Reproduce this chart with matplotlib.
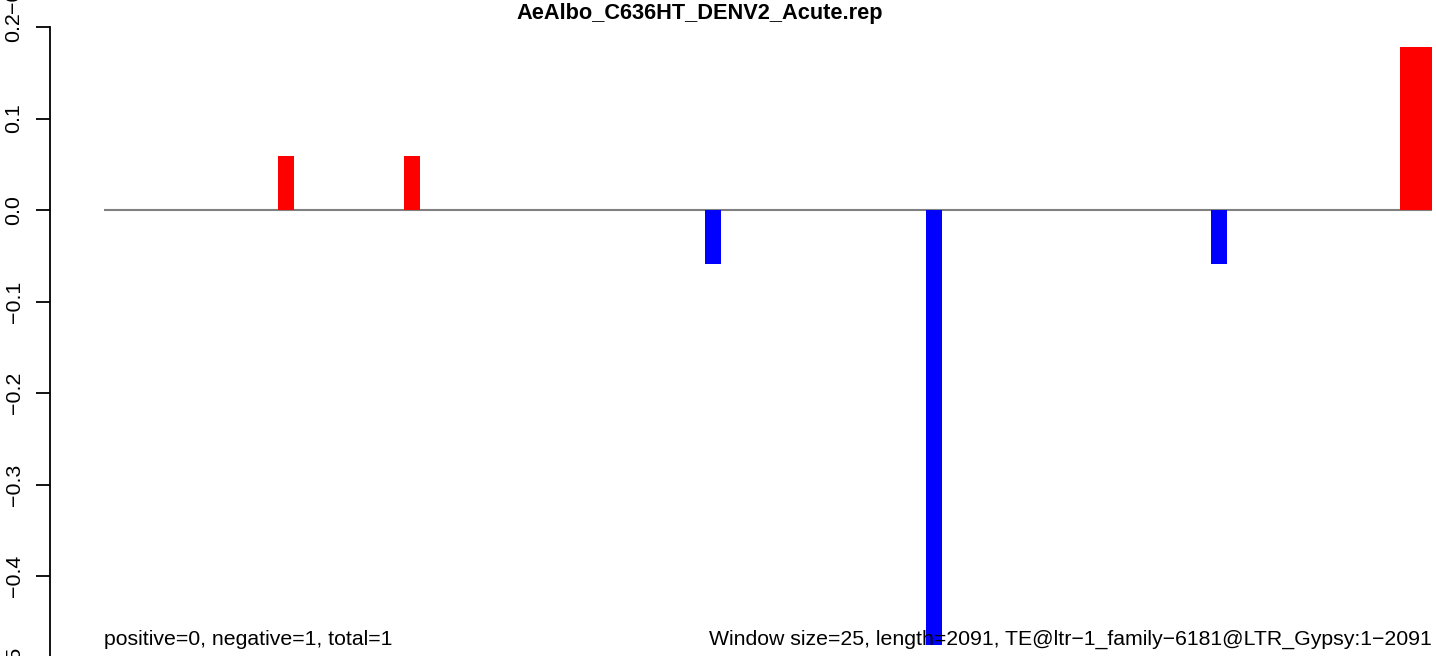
import matplotlib
matplotlib.use("Agg")
import matplotlib.pyplot as plt

plt.rcParams['font.family'] = ['Liberation Sans', 'DejaVu Sans']

# ventanas (tamaño 25) con valor distinto de cero
ventanas = [11, 19, 38, 52, 70, 82, 83]
valores = [0.059, 0.059, -0.059, -0.475, -0.059, 0.178, 0.178]
n_ventanas = 84
titulo = "AeAlbo_C636HT_DENV2_Acute.rep"
texto_izq = "positive=0, negative=1, total=1"
texto_der = "Window size=25, length=2091, TE@ltr\u22121_family\u22126181@LTR_Gypsy:1\u22122091"
yticks = [0.2, 0.1, 0.0, -0.1, -0.2, -0.3, -0.4, -0.5]
ytick_labels = ["0.2", "0.1", "0.0", "\u22120.1", "\u22120.2", "\u22120.3", "\u22120.4", "\u22120.5"]

W, H = 1436, 656
fig = plt.figure(figsize=(W / 100, H / 100), dpi=100)

px_x = 15.81
px_y = 915.0
y_cero = 210.0
x_cero = 104.0
y_min = -0.55
y_max = y_cero / px_y
alto = y_cero + (-y_min) * px_y
ax = fig.add_axes([50 / W, (H - alto) / H, (W - 50) / W, alto / H])
ax.set_xlim(-(x_cero - 50) / px_x, n_ventanas + (W - x_cero - n_ventanas * px_x) / px_x)
ax.set_ylim(y_min, y_max)

colores = ['red' if v > 0 else 'blue' for v in valores]
ax.bar(ventanas, valores, width=1.0, align='edge', color=colores, zorder=3)
ax.hlines(0, 0, n_ventanas, color='gray', linewidth=1.5, zorder=2)

for s in ['top', 'right', 'bottom']:
    ax.spines[s].set_visible(False)
ax.spines['left'].set_bounds(-0.6, 0.2)
ax.spines['left'].set_linewidth(1.3)
ax.set_xticks([])
ax.set_yticks(yticks)
ax.set_yticklabels(ytick_labels, rotation=90, va='center', fontsize=15.4)
ax.tick_params(axis='y', length=10, width=1.3, pad=9)

fig.text(700 / W, 1 - 19 / H, titulo, ha='center', va='baseline',
         fontsize=15.7, fontweight='bold')
fig.text(104 / W, 1 - 645 / H, texto_izq, ha='left', va='baseline', fontsize=15.35)
fig.text(1432 / W, 1 - 645 / H, texto_der, ha='right', va='baseline', fontsize=15.35)
# etiqueta del panel superior, cortada
fig.text(13 / W, 1 - 13 / H, "\u22120.5", rotation=90, ha='center', va='bottom', fontsize=15.4)

fig.savefig("out.png", dpi=100)
